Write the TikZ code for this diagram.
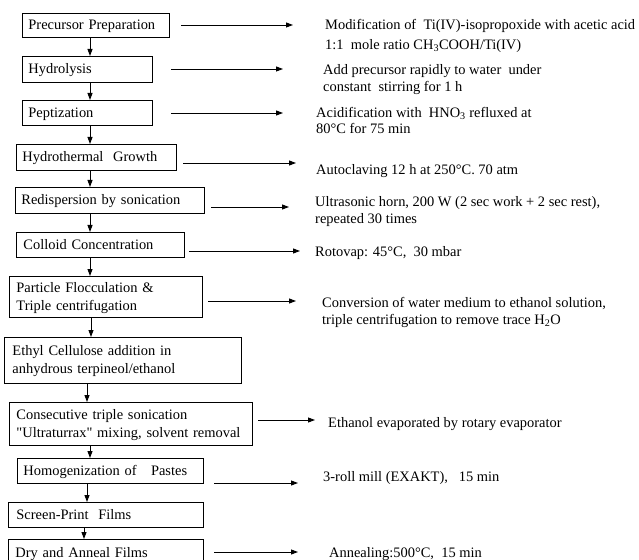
\documentclass[tikz,border=0pt]{standalone}
\usepackage{fontspec}
\setmainfont{Liberation Serif}[Ligatures=TeXOff]
\usetikzlibrary{arrows.meta}
\tikzset{
  box/.style={draw=black, line width=0.9bp, rectangle, anchor=north west, align=left,
    inner ysep=0pt, font=\fontsize{14.5}{18}\selectfont, text=black},
  arr/.style={draw=black, line width=0.9bp, -{Triangle[length=7bp,width=5bp]}},
  note/.style={anchor=west, inner sep=0pt, align=left, font=\fontsize{14.5}{17}\selectfont, text=black}
}
\newcommand{\bstrut}{\rule[-3bp]{0pt}{15bp}}
% box helper: name, x1, y1, x2, y2, padding, text
\newcommand{\flowbox}[7]{%
  \pgfmathsetmacro{\bw}{#4-#2}\pgfmathsetmacro{\bh}{#5-#3}\pgfmathsetmacro{\tw}{#4-#2-2*#6}%
  \node[box, minimum width=\bw bp, minimum height=\bh bp, text width=\tw bp, inner xsep=#6bp] (#1) at (#2,#3) {\bstrut #7\bstrut};}
\begin{document}
\begin{tikzpicture}[x=1bp,y=-1bp]
\useasboundingbox (0,0) rectangle (639,560);
\clip (0,0) rectangle (639,560);
% process boxes
\flowbox{b1}{22}{13}{169}{37}{6}{Precursor Preparation}
\flowbox{b2}{22}{56}{152}{82}{6}{Hydrolysis}
\flowbox{b3}{22}{100}{152}{125}{6}{Peptization}
\flowbox{b4}{16}{144}{176}{170}{6}{Hydrothermal\ \ Growth}
\flowbox{b5}{15}{187}{204}{213}{6}{Redispersion by sonication}
\flowbox{b6}{16}{232}{184}{257}{7}{Colloid Concentration}
\flowbox{b7}{9}{276}{202}{317}{7}{Particle Flocculation \&\\Triple centrifugation}
\flowbox{b8}{4}{337}{241}{383}{8}{Ethyl Cellulose addition in\\anhydrous terpineol/ethanol}
\flowbox{b9}{9}{402}{252}{445}{7}{Consecutive triple sonication\\"Ultraturrax" mixing, solvent removal}
\flowbox{b10}{17}{458}{203}{483}{6}{Homogenization of\ \ \ Pastes}
\flowbox{b11}{8}{502}{203}{527}{8}{Screen-Print\ \ Films}
\flowbox{b12}{8}{539}{203}{566}{7}{Dry and Anneal Films}
% vertical connectors
\draw[arr] (b1.south -| 90,0) -- (b2.north -| 90,0);
\draw[arr] (b2.south -| 90,0) -- (b3.north -| 90,0);
\draw[arr] (b3.south -| 90,0) -- (b4.north -| 90,0);
\draw[arr] (b4.south -| 90,0) -- (b5.north -| 90,0);
\draw[arr] (b5.south -| 90,0) -- (b6.north -| 90,0);
\draw[arr] (b6.south -| 90,0) -- (b7.north -| 90,0);
\draw[arr] (b7.south -| 91,0) -- (b8.north -| 91,0);
\draw[arr] (b8.south -| 87,0) -- (b9.north -| 87,0);
\draw[arr] (b9.south -| 90,0) -- (b10.north -| 90,0);
\draw[arr] (b10.south -| 87,0) -- (b11.north -| 87,0);
\draw[arr] (b11.south -| 84,0) -- (b12.north -| 84,0);
% descriptions
\node[note] (t1) at (325,35) {\bstrut Modification of\ \ Ti(IV)-isopropoxide with acetic acid\\[3pt]1:1\ \ mole ratio CH\textsubscript{3}COOH/Ti(IV)\bstrut};
\node[note] (t2) at (323,79) {\bstrut Add precursor rapidly to water\ \ under\\constant\ \ stirring for 1 h\bstrut};
\node[note] (t3) at (316,121) {\bstrut Acidification with\ \ HNO\textsubscript{3} refluxed at\\[-1pt]80°C for 75 min\bstrut};
\node[note] (t4) at (316,170) {\bstrut Autoclaving 12 h at 250°C. 70 atm};
\node[note] (t5) at (315,210.5) {\bstrut Ultrasonic horn, 200 W (2 sec work + 2 sec rest),\\repeated 30 times\bstrut};
\node[note] (t6) at (315,252) {\bstrut Rotovap: 45°C,\ \ 30 mbar};
\node[note] (t7) at (322,311.5) {\bstrut Conversion of water medium to ethanol solution,\\triple centrifugation to remove trace H\textsubscript{2}O\bstrut};
\node[note] (t8) at (328,423) {\bstrut Ethanol evaporated by rotary evaporator};
\node[note] (t9) at (323,477) {\bstrut 3-roll mill (EXAKT),\ \ \ 15 min};
\node[note] (t10) at (329,553) {\bstrut Annealing:500°C,\ \ 15 min};
% horizontal connector end points
\coordinate (h1s) at (181,25);  \coordinate (h1e) at (293,25);
\coordinate (h2s) at (171,69);  \coordinate (h2e) at (283,69);
\coordinate (h3s) at (171,113); \coordinate (h3e) at (283,113);
\coordinate (h4s) at (183,163); \coordinate (h4e) at (296,163);
\coordinate (h5s) at (211,207); \coordinate (h5e) at (289,207);
\coordinate (h6s) at (189,251); \coordinate (h6e) at (300,251);
\coordinate (h7s) at (208,301); \coordinate (h7e) at (296,301);
\coordinate (h9s) at (258,420); \coordinate (h9e) at (315,420);
\coordinate (h10s) at (214,483); \coordinate (h10e) at (298,483);
\coordinate (h12s) at (214,552); \coordinate (h12e) at (298,552);
\foreach \i in {1,2,3,4,5,6,7,9,10,12} \draw[arr] (h\i s) -- (h\i e);
\end{tikzpicture}
\end{document}
